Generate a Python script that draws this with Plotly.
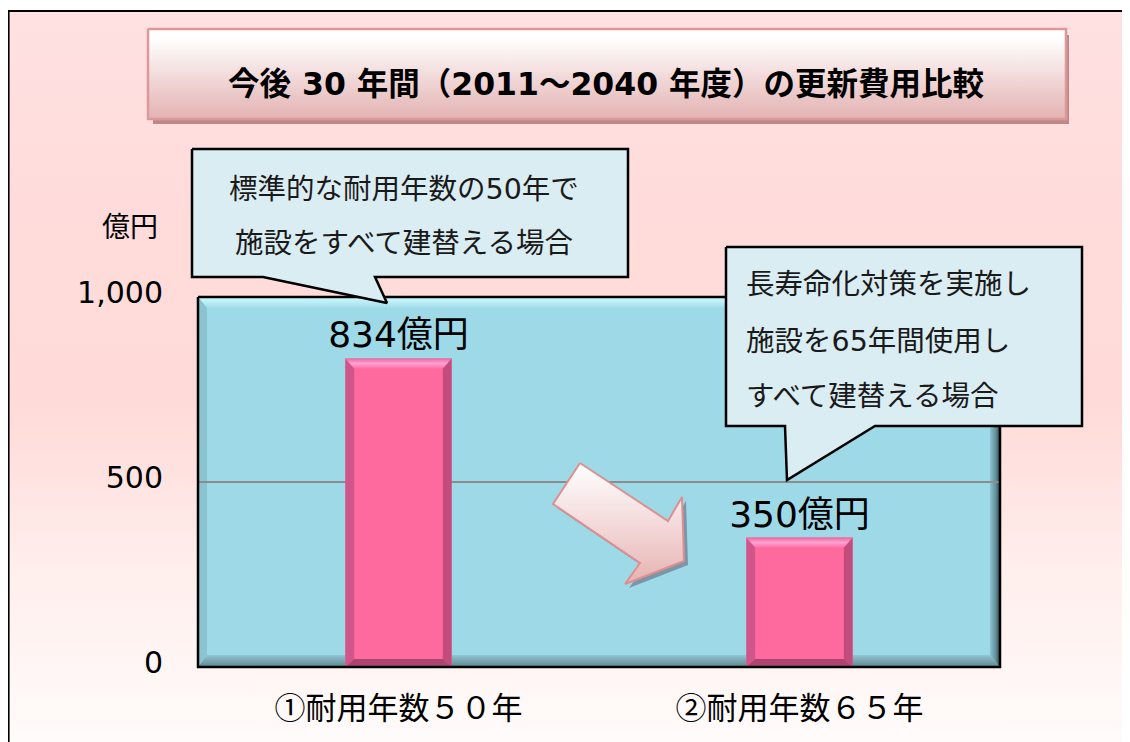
import plotly.graph_objects as go

# ---------------- data ----------------
categories = ['①耐用年数５０年', '②耐用年数６５年']
values = [834, 350]
value_labels = ['834億円', '350億円']
tick_vals = [0, 500, 1000]
tick_text = ['0', '500', '1,000']
unit_label = '億円'
title_text = '今後 30 年間（2011～2040 年度）の更新費用比較'
callout1_lines = ['標準的な耐用年数の50年で', '施設をすべて建替える場合']
callout2_lines = ['長寿命化対策を実施し', '施設を65年間使用し', 'すべて建替える場合']

# ---------------- layout constants (screen pixels) ----------------
W, H = 1130, 742
OFF = 8            # page body margin offset of the figure
PL, PR, PT, PB = 198, 1000, 297, 667
BAR_W = 0.265
FONT = 'DejaVu Sans, Noto Sans CJK JP'
CJK = 'Noto Sans CJK JP, DejaVu Sans'


def fx(px):
    return (px - OFF) / W


def fy(py):
    return 1 - (py - OFF) / H


def cx(px):
    return px - OFF


def cy(py):
    return H - (py - OFF)


def poly(pts, axes, fill=None, grad=None, line=None, lw=0):
    xs = [cx(p[0]) for p in pts] + [cx(pts[0][0])]
    ys = [cy(p[1]) for p in pts] + [cy(pts[0][1])]
    kw = dict(x=xs, y=ys, mode='lines', fill='toself', hoverinfo='skip',
              showlegend=False, xaxis=axes[0], yaxis=axes[1],
              line=dict(color=line or 'rgba(0,0,0,0)', width=lw))
    if grad is not None:
        kw['fillgradient'] = grad
        kw['fillcolor'] = grad['colorscale'][0][1]
    else:
        kw['fillcolor'] = fill
    return go.Scatter(**kw)


def vgrad(stops):
    return dict(type='vertical', colorscale=stops)


def hgrad(stops):
    return dict(type='horizontal', colorscale=stops)


def polyline(pts, axes, color, lw):
    return go.Scatter(x=[cx(p[0]) for p in pts], y=[cy(p[1]) for p in pts], mode='lines',
                      line=dict(color=color, width=lw), hoverinfo='skip',
                      showlegend=False, xaxis=axes[0], yaxis=axes[1])


BG = ('x', 'y')
FG = ('x3', 'y3')

fig = go.Figure()

# ---- background layer ----
fig.add_trace(poly([(8, 11), (W + OFF, 11), (W + OFF, H + OFF), (8, H + OFF)], BG,
                   grad=vgrad([[0, '#FFFCFB'], [0.25, '#FFEEEC'], [0.47, '#FFDAD8'],
                               [0.75, '#FFDCDB'], [1, '#FFE1E1']])))
fig.add_trace(polyline([(OFF + 0.6, H + OFF), (OFF + 0.6, 11), (W + OFF, 11)], BG, 'black', 2))

# title box
fig.add_trace(poly([(153, 35), (1069, 35), (1069, 124), (153, 124)], BG, fill='#BF8888'))
fig.add_trace(poly([(148, 29), (1066, 29), (1066, 119), (148, 119)], BG,
                   grad=vgrad([[0, '#E3B2B2'], [0.5, '#F3DCDC'], [0.9, '#FFFFFF'], [1, '#FFFFFF']]),
                   line='#DD9999', lw=2.5))

# plot area with bevel
fig.add_trace(poly([(PL, PT), (PR, PT), (PR, PB), (PL, PB)], BG, fill='#9ED9E8'))
fig.add_trace(poly([(PL, PT), (PR, PT), (PR - 10, PT + 11), (PL + 9, PT + 11)], BG,
                   grad=vgrad([[0, '#A2DCEA'], [0.6, '#BDF0F8'], [1, '#CFF8FD']])))
fig.add_trace(poly([(PL, PT), (PL + 9, PT + 11), (PL + 9, PB - 12), (PL, PB)], BG, fill='#8BC4D1'))
fig.add_trace(poly([(PL, PB), (PR, PB), (PR - 10, PB - 12), (PL + 9, PB - 12)], BG,
                   grad=vgrad([[0, '#5F8790'], [1, '#90C5D2']])))
fig.add_trace(poly([(PR, PT), (PR, PB), (PR - 10, PB - 12), (PR - 10, PT + 11)], BG,
                   grad=hgrad([[0, '#8DC3D0'], [0.6, '#5F8D97'], [1, '#2E474D']])))

# ---- chart ----
xs = list(range(len(categories)))
fig.add_trace(go.Bar(x=xs, y=values, width=BAR_W, marker=dict(color='#FF6A9E', line=dict(width=0)),
                     text=value_labels, textposition='outside', cliponaxis=False,
                     constraintext='none',
                     textfont=dict(family=FONT, size=36, color='black'),
                     hoverinfo='skip', showlegend=False, xaxis='x2', yaxis='y2'))

dx = 0.022
dyt = 10 * 1000 / (PB - PT)
dyb = 8 * 1000 / (PB - PT)


def bev(pts, **kw):
    return go.Scatter(x=[p[0] for p in pts] + [pts[0][0]], y=[p[1] for p in pts] + [pts[0][1]],
                      mode='lines', fill='toself', line=dict(width=0, color='rgba(0,0,0,0)'),
                      hoverinfo='skip', showlegend=False, xaxis='x2', yaxis='y2', **kw)


for i, v in zip(xs, values):
    xl, xr = i - BAR_W / 2, i + BAR_W / 2
    fig.add_trace(bev([(xl, 0), (xl, v), (xl + dx, v - dyt), (xl + dx, dyb)], fillcolor='#D0558A'))
    fig.add_trace(bev([(xr, 0), (xr, v), (xr - dx, v - dyt), (xr - dx, dyb)], fillcolor='#C24C7C'))
    fig.add_trace(bev([(xl, 0), (xr, 0), (xr - dx, dyb), (xl + dx, dyb)], fillcolor='#AC4670'))
    fig.add_trace(bev([(xl, v), (xr, v), (xr - dx, v - dyt), (xl + dx, v - dyt)],
                      fillcolor='#FF9ECF',
                      fillgradient=vgrad([[0, '#FF72A6'], [0.5, '#FFA3D2'], [1, '#E8679C']])))

# ---- foreground layer ----
fig.add_trace(polyline([(PL, PT), (PR, PT), (PR, PB), (PL, PB), (PL, PT)], FG, 'black', 2.5))

arrow = [(580, 463), (668, 521), (682, 497), (684, 561), (625, 584), (640, 563), (553, 504)]
fig.add_trace(poly([(x + 4, y + 4) for x, y in arrow], FG, fill='rgba(95,95,115,0.55)'))
fig.add_trace(poly(arrow, FG, grad=vgrad([[0, '#E6B2B2'], [0.5, '#F4DADA'], [1, '#FFFFFF']]),
                   line='#DE9090', lw=2))

callout1 = [(192, 149), (628, 149), (628, 277), (375, 277), (387, 303), (263, 277), (192, 277)]
callout2 = [(726, 247), (1082, 247), (1082, 426), (875, 426), (787, 480), (785, 426), (726, 426)]
for c in (callout1, callout2):
    fig.add_trace(poly(c, FG, fill='#DAEDF3', line='black', lw=2.5))

# ---- annotations ----
ann = [
    dict(x=fx(606), y=fy(84), text='<b>' + title_text + '</b>', font=dict(family=FONT, size=31.5, color='black'),
         xanchor='center', yanchor='middle'),
    dict(x=fx(130), y=fy(225), text=unit_label, font=dict(family=CJK, size=28, color='black'),
         xanchor='center', yanchor='middle'),
]
for line, py in zip(callout1_lines, [190, 243]):
    ann.append(dict(x=fx(404), y=fy(py), text=line, font=dict(family=FONT, size=28.5, color='#1a1a1a'),
                    xanchor='center', yanchor='middle'))
for line, py in zip(callout2_lines, [284, 341, 396]):
    ann.append(dict(x=fx(744), y=fy(py), text=line, font=dict(family=FONT, size=28.5, color='#1a1a1a'),
                    xanchor='left', yanchor='middle'))
for a in ann:
    a.update(xref='paper', yref='paper', showarrow=False)

full = dict(domain=[0, 1], visible=False, fixedrange=True)
fig.update_layout(
    width=W, height=H,
    margin=dict(l=0, r=0, t=0, b=0, autoexpand=False),
    paper_bgcolor='white', plot_bgcolor='rgba(0,0,0,0)',
    showlegend=False,
    xaxis=dict(full, range=[0, W], anchor='y'),
    yaxis=dict(full, range=[0, H], anchor='x'),
    xaxis3=dict(full, range=[0, W], anchor='y3'),
    yaxis3=dict(full, range=[0, H], anchor='x3'),
    xaxis2=dict(domain=[cx(PL) / W, cx(PR) / W], range=[-0.5, len(categories) - 0.5], anchor='y2',
                tickvals=xs, ticktext=categories, showgrid=False, zeroline=False, showline=False,
                ticks='', ticklabelstandoff=20, fixedrange=True,
                tickfont=dict(family=CJK, size=31, color='black')),
    yaxis2=dict(domain=[cy(PB) / H, cy(PT) / H], range=[0, 1000], anchor='x2',
                tickvals=tick_vals, ticktext=tick_text, showgrid=True, gridcolor='#8C8C8C',
                gridwidth=2, zeroline=False, showline=False, ticks='', ticklabelstandoff=34,
                ticklabelshift=-5,
                fixedrange=True, tickfont=dict(family=FONT, size=30, color='black')),
    annotations=ann,
)

fig.write_html('out.html')
